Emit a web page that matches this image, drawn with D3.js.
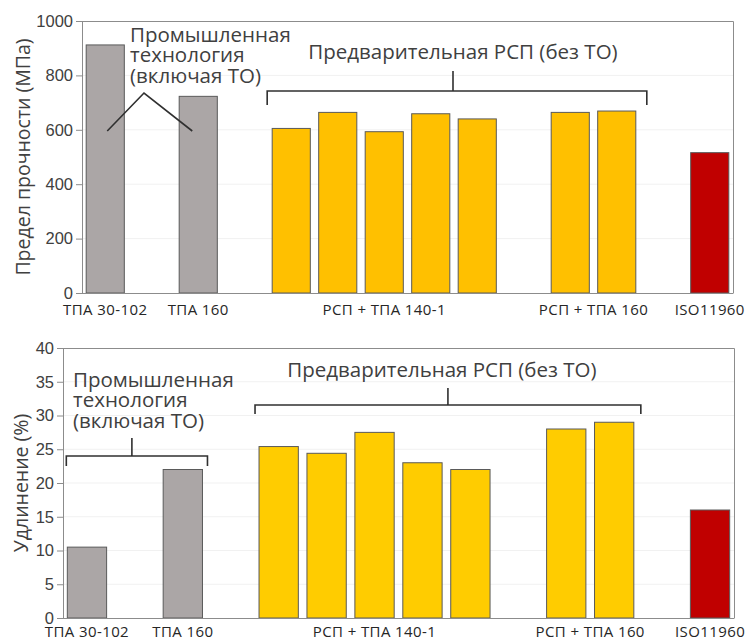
<!DOCTYPE html>
<html>
<head>
<meta charset="utf-8">
<script src="https://cdn.jsdelivr.net/npm/d3@7"></script>
<style>
  html, body { margin: 0; padding: 0; background: #fff; }
  svg { display: block; font-family: "Open Sans", "Noto Sans", sans-serif; }
</style>
</head>
<body>
<svg id="chart" width="750" height="641"></svg>
<script>
// Slot (position on a 14-slot band scale) of every bar, left to right
const barSlots = [0, 2, 4, 5, 6, 7, 8, 10, 11, 13];
// Group of every bar (drives the fill colour)
const barGroups = ["industrial", "industrial", "rsp140", "rsp140", "rsp140", "rsp140", "rsp140", "rsp160", "rsp160", "iso"];
// Ultimate tensile strength, MPa
const strengthMPa = [912, 723, 605, 664, 593, 659, 640, 664, 669, 516];
// Elongation, %
const elongationPct = [10.5, 22, 25.4, 24.4, 27.5, 23, 22, 28, 29, 16];

// Category labels under the x axis and the slot each one is centred on
const groupLabels = ["ТПА 30-102", "ТПА 160", "РСП + ТПА 140-1", "РСП + ТПА 160", "ISO11960"];
const groupLabelSlots = [0, 2, 6, 10.5, 13];

const strengthTicks = [0, 200, 400, 600, 800, 1000];
const elongationTicks = [0, 5, 10, 15, 20, 25, 30, 35, 40];

const industrialNote = ["Промышленная", "технология", "(включая ТО)"];
const rspNote = "Предварительная РСП (без ТО)";

const slotCount = 14;
const svg = d3.select("#chart");

function drawPanel(opts) {
  const { top, bottom, left, right, values, ticks, yMax, yTitle, titleX, yellow } = opts;
  const g = svg.append("g");

  const x = d3.scaleBand()
    .domain(d3.range(slotCount))
    .range([left, right])
    .paddingInner(0.18)
    .paddingOuter(0.09);
  const y = d3.scaleLinear().domain([0, yMax]).range([bottom, top]);

  const fills = { industrial: "#aba6a6", rsp140: yellow, rsp160: yellow, iso: "#c00000" };

  // faint horizontal gridlines
  g.append("g").selectAll("line")
    .data(ticks.slice(1, -1))
    .join("line")
    .attr("x1", left).attr("x2", right)
    .attr("y1", d => y(d)).attr("y2", d => y(d))
    .attr("stroke", "#f1f1f1").attr("stroke-width", 1);

  // plot frame (top and right edges)
  g.append("path")
    .attr("d", `M${left},${top + 0.5}H${right + 0.5}V${bottom}`)
    .attr("fill", "none").attr("stroke", "#8c8c8c").attr("stroke-width", 1);

  // bars
  g.append("g").selectAll("rect")
    .data(values.map((v, i) => ({ v, slot: barSlots[i], group: barGroups[i] })))
    .join("rect")
    .attr("x", d => x(d.slot))
    .attr("width", x.bandwidth())
    .attr("y", d => y(d.v))
    .attr("height", d => y(0) - y(d.v))
    .attr("fill", d => fills[d.group])
    .attr("stroke", "#5a5a5a").attr("stroke-width", 1);

  // y axis
  const yAxis = g.append("g")
    .attr("transform", `translate(${left},0)`)
    .call(d3.axisLeft(y).tickValues(ticks).tickSize(6).tickPadding(3).tickFormat(d3.format("d")));
  yAxis.select(".domain").attr("stroke", "#8c8c8c");
  yAxis.selectAll(".tick line").attr("stroke", "#8c8c8c");
  yAxis.selectAll(".tick text").attr("fill", "#404040").style("font-size", "16.5px");

  // x axis baseline
  g.append("line")
    .attr("x1", left).attr("x2", right + 0.5)
    .attr("y1", bottom + 0.5).attr("y2", bottom + 0.5)
    .attr("stroke", "#8c8c8c");

  // category labels
  const slotCenter = s => x(0) + s * x.step() + x.bandwidth() / 2;
  g.append("g").selectAll("text")
    .data(groupLabels.map((t, i) => ({ t, s: groupLabelSlots[i] })))
    .join("text")
    .attr("x", d => slotCenter(d.s))
    .attr("y", opts.labelY)
    .attr("text-anchor", "middle")
    .attr("fill", "#262626")
    .style("font-size", "15px")
    .style("letter-spacing", "0.4px")
    .text(d => d.t);

  // y axis title
  g.append("text")
    .attr("transform", `translate(${titleX},${(top + bottom) / 2}) rotate(-90)`)
    .attr("text-anchor", "middle")
    .attr("dominant-baseline", "central")
    .attr("fill", "#404040")
    .style("font-size", "19.5px")
    .text(yTitle);

  return { x, y, g, slotCenter };
}

function bracket(g, x1, x2, yLine, drop, xMid, rise) {
  g.append("path")
    .attr("d", `M${x1},${yLine + drop}V${yLine}H${x2}V${yLine + drop}M${xMid},${yLine}V${yLine - rise}`)
    .attr("fill", "none").attr("stroke", "#303030").attr("stroke-width", 1.6);
}

function noteText(g, lines, xPos, baselines, size) {
  g.append("g").selectAll("text")
    .data(lines.map((t, i) => ({ t, yb: baselines[i] })))
    .join("text")
    .attr("x", xPos).attr("y", d => d.yb)
    .attr("fill", "#404040")
    .style("font-size", size)
    .text(d => d.t);
}

// ---- Upper panel: tensile strength ----
const p1 = drawPanel({
  top: 21, bottom: 293, left: 82, right: 733,
  values: strengthMPa, ticks: strengthTicks, yMax: 1000,
  yTitle: "Предел прочности (МПа)", titleX: 22, yellow: "#ffc000", labelY: 315
});
noteText(p1.g, industrialNote, 130, [41.5, 62, 83], "20.5px");
// chevron pointing from the note to the two industrial bars
p1.g.append("path")
  .attr("d", `M${p1.slotCenter(0) + 2},131L144,93L${p1.slotCenter(2) - 6},131`)
  .attr("fill", "none").attr("stroke", "#303030").attr("stroke-width", 1.6);
{
  const xs = p1.x;
  const x1 = xs(4) - 5, x2 = xs(11) + xs.bandwidth() + 11;
  bracket(p1.g, x1, x2, 91, 14, (x1 + x2) / 2 - 4, 20);
  p1.g.append("text")
    .attr("x", (x1 + x2) / 2 + 6).attr("y", 59)
    .attr("text-anchor", "middle").attr("fill", "#404040")
    .style("font-size", "20.5px").text(rspNote);
}

// ---- Lower panel: elongation ----
const p2 = drawPanel({
  top: 348, bottom: 618, left: 63, right: 734,
  values: elongationPct, ticks: elongationTicks, yMax: 40,
  yTitle: "Удлинение (%)", titleX: 20, yellow: "#ffcc00", labelY: 637
});
noteText(p2.g, industrialNote, 73, [387, 407, 428], "20.5px");
{
  const xs = p2.x;
  const a1 = xs(0) - 1, a2 = xs(2) + xs.bandwidth() + 5;
  bracket(p2.g, a1, a2, 456, 10, (a1 + a2) / 2 - 5, 18);
  const b1 = xs(4) - 4, b2 = xs(11) + xs.bandwidth() + 7;
  bracket(p2.g, b1, b2, 405, 9, (b1 + b2) / 2, 17);
  p2.g.append("text")
    .attr("x", (b1 + b2) / 2 - 6).attr("y", 377)
    .attr("text-anchor", "middle").attr("fill", "#404040")
    .style("font-size", "20.5px").text(rspNote);
}
</script>
</body>
</html>
